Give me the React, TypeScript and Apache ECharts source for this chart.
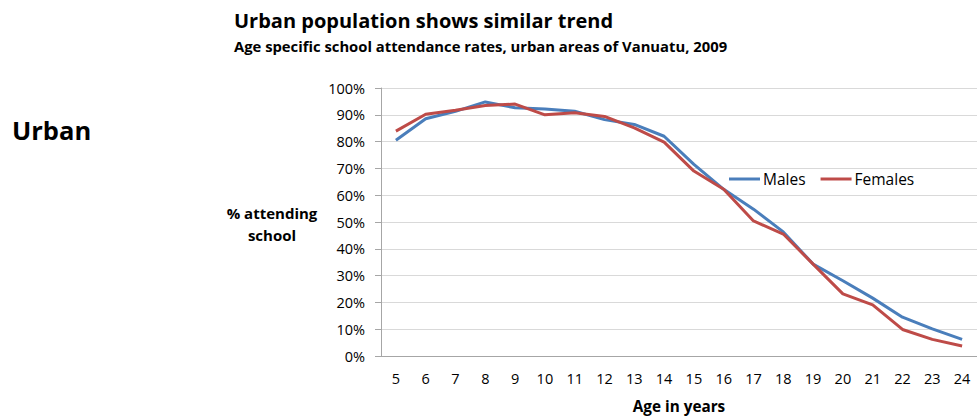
import React, { useEffect, useRef } from "react";
import * as echarts from "echarts";

const ages = ["5","6","7","8","9","10","11","12","13","14","15","16","17","18","19","20","21","22","23","24"];
const males = [80.5, 88.5, 91.3, 94.8, 92.6, 92.2, 91.3, 88.2, 86.4, 82.0, 71.5, 62.2, 54.8, 46.3, 34.3, 28.1, 21.6, 14.5, 10.1, 6.2];
const females = [83.9, 90.2, 91.7, 93.5, 94.0, 90.0, 90.8, 89.4, 85.1, 79.8, 69.0, 62.2, 50.4, 45.5, 34.3, 23.2, 19.1, 9.9, 6.2, 3.7];

const FONT = "'Open Sans', sans-serif";

export default function App() {
  const ref = useRef<HTMLDivElement>(null);
  useEffect(() => {
    if (!ref.current) return;
    const chart = echarts.init(ref.current, undefined, { renderer: "svg" });
    chart.setOption({
      animation: false,
      backgroundColor: "#ffffff",
      textStyle: { fontFamily: FONT },
      title: [
        {
          text: "Urban population shows similar trend",
          left: 229, top: 5,
          textStyle: { fontFamily: FONT, fontSize: 20, fontWeight: "bold", color: "#000" },
        },
        {
          text: "Age specific school attendance rates, urban areas of Vanuatu, 2009",
          left: 229, top: 33,
          textStyle: { fontFamily: FONT, fontSize: 14.8, fontWeight: "bold", color: "#000" },
        },
      ],
      graphic: [
        { type: "text", x: 12, y: 130, style: { text: "Urban", font: `bold 25.5px ${FONT}`, fill: "#000", verticalAlign: "middle" } },
        { type: "text", x: 272, y: 213, style: { text: "% attending", font: `bold 15px ${FONT}`, fill: "#000", align: "center", verticalAlign: "middle" } },
        { type: "text", x: 272, y: 235, style: { text: "school", font: `bold 15px ${FONT}`, fill: "#000", align: "center", verticalAlign: "middle" } },
      ],
      legend: {
        left: 724, top: 166,
        icon: "rect",
        itemWidth: 31, itemHeight: 3,
        itemGap: 15,
        textStyle: { fontFamily: FONT, fontSize: 15.5, color: "#000", padding: [0, 0, 0, -2] },
        data: ["Males", "Females"],
      },
      grid: { left: 381, right: 0, top: 88, bottom: 61, containLabel: false },
      xAxis: {
        type: "category",
        data: ages,
        boundaryGap: true,
        axisLine: { lineStyle: { color: "#a6a6a6", width: 1 } },
        axisTick: { show: false },
        axisLabel: { color: "#000", fontSize: 14.5, fontFamily: FONT, margin: 15 },
        name: "Age in years",
        nameLocation: "middle",
        nameGap: 42,
        nameTextStyle: { fontFamily: FONT, fontSize: 15.3, fontWeight: "bold", color: "#000" },
      },
      yAxis: {
        type: "value",
        min: 0, max: 100, interval: 10,
        axisLine: { show: true, lineStyle: { color: "#a6a6a6", width: 1 } },
        axisTick: { show: true, length: 6, lineStyle: { color: "#a6a6a6" } },
        splitLine: { lineStyle: { color: "#d9d9d9", width: 1 } },
        axisLabel: { color: "#000", fontSize: 14.5, fontFamily: FONT, margin: 16, formatter: "{value}%" },
      },
      series: [
        {
          name: "Males", type: "line", data: males, showSymbol: false, symbol: "none",
          lineStyle: { color: "#4a7ebb", width: 3 }, itemStyle: { color: "#4a7ebb" },
        },
        {
          name: "Females", type: "line", data: females, showSymbol: false, symbol: "none",
          lineStyle: { color: "#be4b48", width: 3 }, itemStyle: { color: "#be4b48" },
        },
      ],
    });
    return () => chart.dispose();
  }, []);
  return <div ref={ref} style={{ width: 977, height: 418, position: "absolute", left: 0, top: 0 }} />;
}
